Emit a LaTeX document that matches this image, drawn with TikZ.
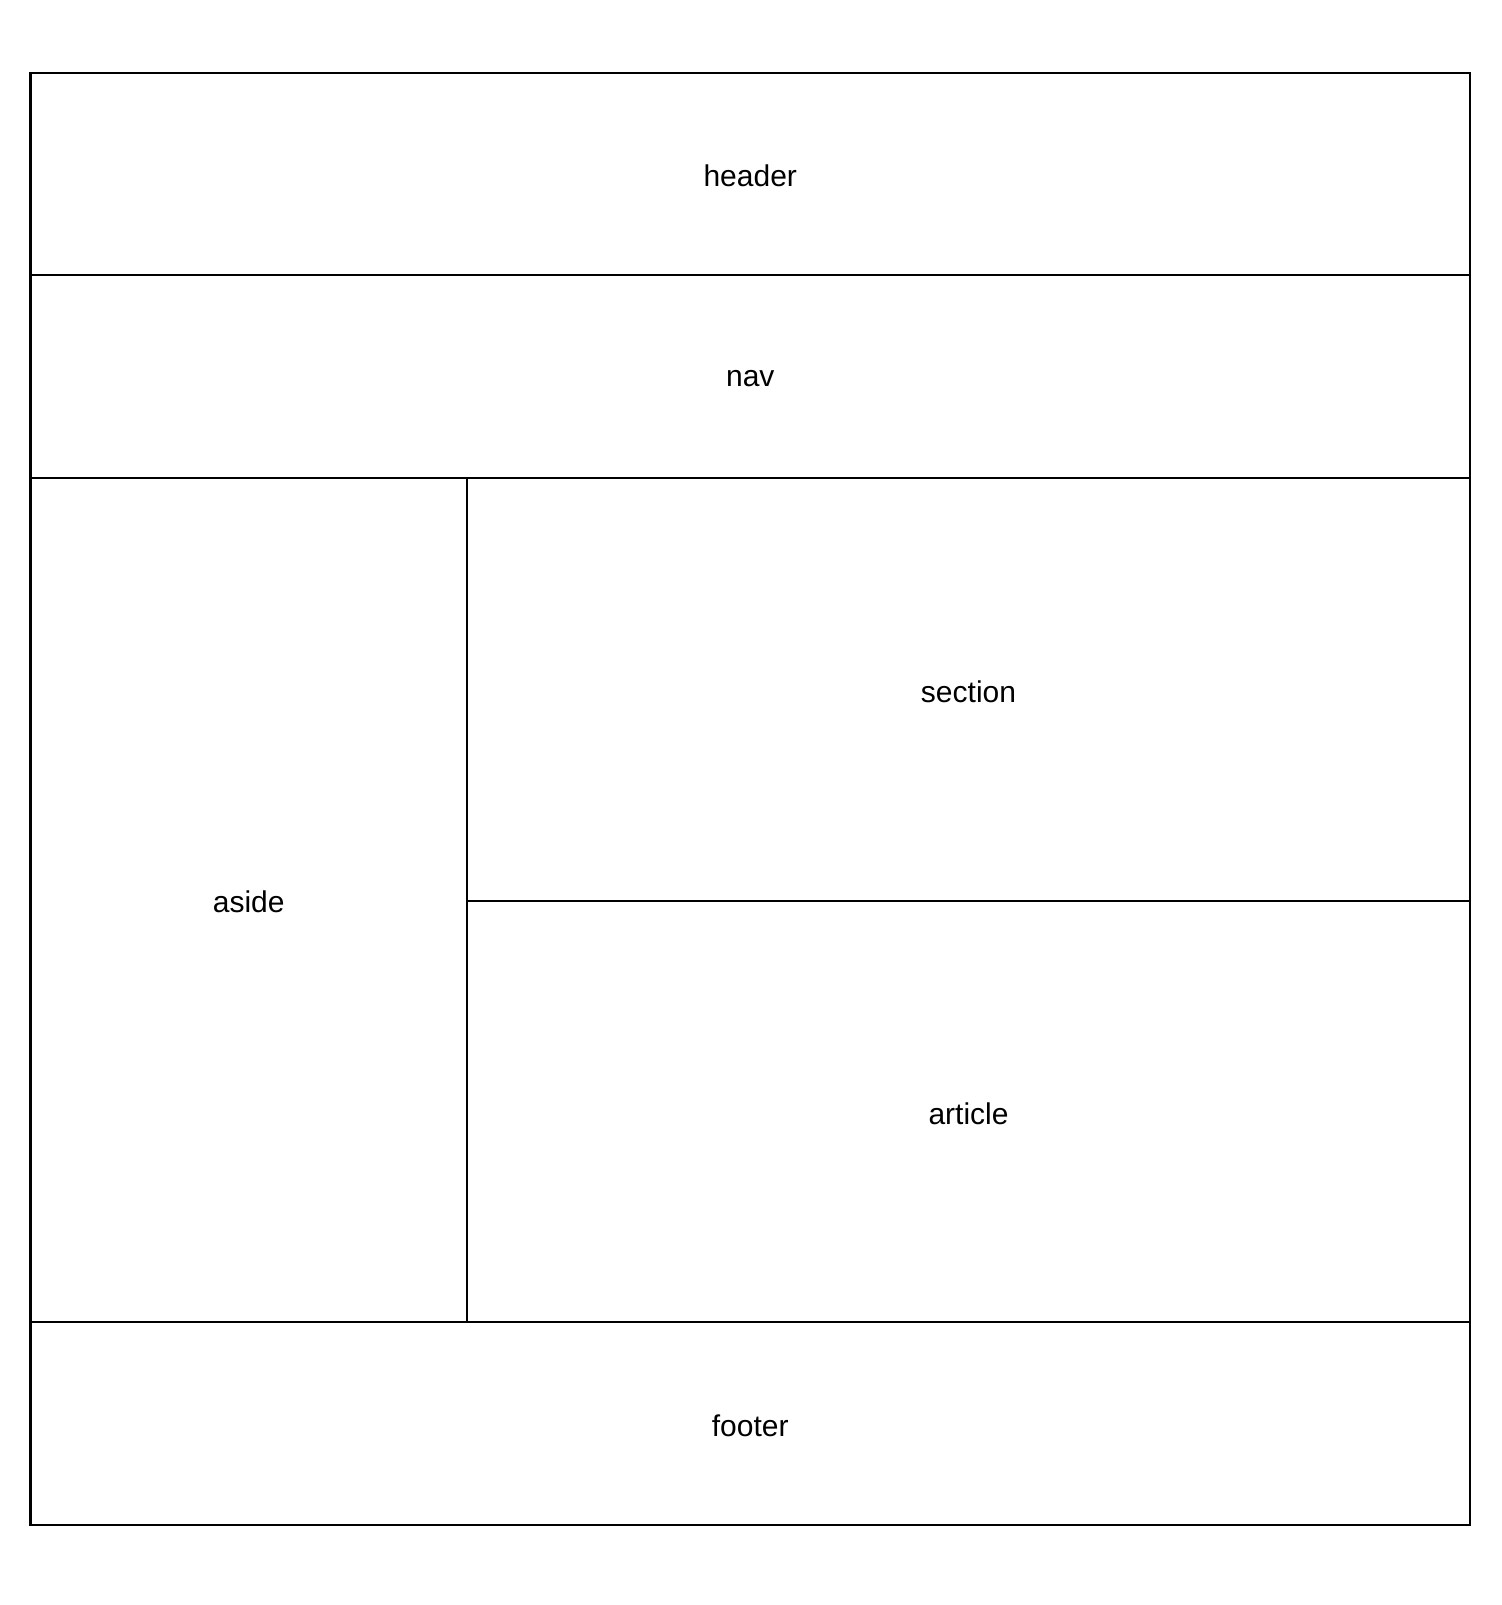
\documentclass[tikz,border=0pt]{standalone}
\usepackage{fontspec}
\setmainfont{Liberation Sans}
\usetikzlibrary{positioning}

\tikzset{
    region/.style={draw=black, line width=2.5pt, inner sep=0pt, outer sep=0pt,
        font=\fontsize{30}{36}\selectfont},
    label text/.style={yshift=-2.2pt}
}

\begin{document}
\begin{tikzpicture}[x=1pt, y=1pt]
        \useasboundingbox (0,0) rectangle (1501,-1605);

        % top rows
        \node[region, minimum width=1439.5pt, minimum height=202pt, anchor=north west] (header) at (30.5,-73) {};
        \node[region, minimum width=1439.5pt, minimum height=203pt, below=0pt of header] (nav) {};

        % middle block
        \node[region, minimum width=436.5pt, minimum height=844pt, anchor=north west] (aside) at (nav.south west) {};
        \node[region, minimum width=1003pt, minimum height=423pt, anchor=north west] (section) at (aside.north east) {};
        \node[region, minimum width=1003pt, minimum height=421pt, below=0pt of section] (article) {};

        % bottom row
        \node[region, minimum width=1439.5pt, minimum height=203pt, anchor=north west] (footer) at (aside.south west) {};

        % labels
        \foreach \n in {header, nav, aside, section, article, footer}
            \node[font=\fontsize{30}{36}\selectfont, label text] (\n-text) at (\n.center) {\n};
\end{tikzpicture}
\end{document}
